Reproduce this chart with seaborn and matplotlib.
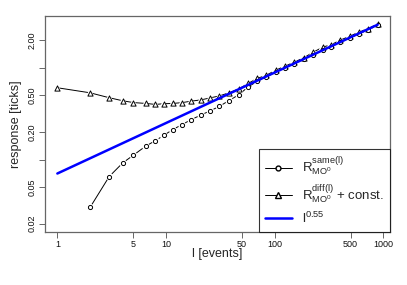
import matplotlib
matplotlib.use("Agg")
import matplotlib.pyplot as plt
from matplotlib.lines import Line2D
from matplotlib.ticker import FixedLocator, FixedFormatter, NullLocator
import seaborn as sns
import pandas as pd
import numpy as np

sns.set_style("white")
plt.rcParams['font.family'] = ['Liberation Sans', 'DejaVu Sans']
plt.rcParams['mathtext.default'] = 'regular'

# data
l_diff = [1, 2, 3, 4, 5, 6.5, 8, 9.5, 11.5, 14, 17, 21, 25.5, 31, 38, 47, 57, 69, 83,
          102, 124, 151, 186, 227, 277, 330, 400, 493, 600, 726, 887]
r_diff = [0.606, 0.534, 0.472, 0.437, 0.418, 0.409, 0.399, 0.406, 0.409, 0.417, 0.433,
          0.447, 0.470, 0.494, 0.534, 0.591, 0.675, 0.766, 0.825, 0.94, 1.04, 1.15,
          1.29, 1.48, 1.68, 1.78, 2.00, 2.21, 2.46, 2.67, 3.01]
l_same = [2, 3, 4, 5, 6.5, 8, 9.5, 11.5, 14, 17, 21, 25.5, 31, 38, 47, 57, 69, 83,
          102, 124, 151, 186, 227, 277, 330, 400, 493, 600, 726, 887]
r_same = [0.0301, 0.0653, 0.0921, 0.1115, 0.140, 0.161, 0.183, 0.212, 0.240, 0.272,
          0.306, 0.340, 0.380, 0.440, 0.510, 0.620, 0.710, 0.790, 0.90, 1.00, 1.11,
          1.25, 1.39, 1.55, 1.70, 1.89, 2.11, 2.35, 2.60, 2.90]
fit_l = [1, 887]
fit_amp = 0.0705
fit_exp = 0.55

x_ticks = [1, 5, 10, 50, 100, 500, 1000]
x_tick_labels = ["1", "5", "10", "50", "100", "500", "1000"]
y_ticks = [0.02, 0.05, 0.1, 0.2, 0.5, 1.0, 2.0]
y_tick_labels = ["0.02", "0.05", "", "0.20", "0.50", "", "2.00"]

df_same = pd.DataFrame({"l": l_same, "r": r_same})
df_diff = pd.DataFrame({"l": l_diff, "r": r_diff})
fit_x = np.array(fit_l, dtype=float)
df_fit = pd.DataFrame({"l": fit_x, "r": fit_amp * fit_x ** fit_exp})

fig = plt.figure(figsize=(4.07, 2.85), dpi=100)
ax = fig.add_axes([0.1106, 0.186, 0.8474, 0.758])

lw = 0.7
# lines
sns.lineplot(data=df_diff, x="l", y="r", ax=ax, color="black", linewidth=lw,
             estimator=None, sort=False, zorder=2)
sns.lineplot(data=df_same, x="l", y="r", ax=ax, color="black", linewidth=lw,
             estimator=None, sort=False, zorder=2)
# halos (gaps around points as in R type="b")
sns.scatterplot(data=df_diff, x="l", y="r", ax=ax, marker="^", s=42, color="white",
                edgecolor="none", zorder=3)
sns.scatterplot(data=df_same, x="l", y="r", ax=ax, marker="o", s=30, color="white",
                edgecolor="none", zorder=3)
# markers
sns.scatterplot(data=df_diff, x="l", y="r", ax=ax, marker="^", s=14, facecolor="white",
                edgecolor="black", linewidth=0.7, zorder=4)
sns.scatterplot(data=df_same, x="l", y="r", ax=ax, marker="o", s=9, facecolor="white",
                edgecolor="black", linewidth=0.7, zorder=4)
# fit line
sns.lineplot(data=df_fit, x="l", y="r", ax=ax, color="#0000ff", linewidth=1.8,
             estimator=None, zorder=5)

ax.set_xscale("log")
ax.set_yscale("log")
ax.set_xlim(0.77, 1150)
ax.set_ylim(0.01626, 3.67)

ax.xaxis.set_major_locator(FixedLocator(x_ticks))
ax.xaxis.set_major_formatter(FixedFormatter(x_tick_labels))
ax.xaxis.set_minor_locator(NullLocator())
ax.yaxis.set_major_locator(FixedLocator(y_ticks))
ax.yaxis.set_major_formatter(FixedFormatter(y_tick_labels))
ax.yaxis.set_minor_locator(NullLocator())

frame_c = "#666666"
for sp in ax.spines.values():
    sp.set_color(frame_c)
    sp.set_linewidth(0.9)
ax.tick_params(axis="both", which="major", direction="out", length=4, width=0.7,
               color=frame_c, labelsize=6.5, labelcolor="#111111", pad=2,
               bottom=True, left=True)
for t in ax.get_yticklabels():
    t.set_rotation(90)
    t.set_va("center")

ax.set_xlabel("l [events]", fontsize=9, labelpad=-1)
ax.set_ylabel("response [ticks]", fontsize=9, labelpad=4)

handles = [
    Line2D([], [], color="black", linewidth=lw, marker="o", markersize=3.5,
           markerfacecolor="white", markeredgecolor="black"),
    Line2D([], [], color="black", linewidth=lw, marker="^", markersize=4.5,
           markerfacecolor="white", markeredgecolor="black"),
    Line2D([], [], color="#0000ff", linewidth=1.8),
]
labels = [r"$R^{same(l)}_{MO^0}$", r"$R^{diff(l)}_{MO^0}$ + const.", r"$l^{0.55}$"]
leg = ax.legend(handles, labels, loc="lower right", borderaxespad=0, fontsize=9.5,
                frameon=True, fancybox=False, edgecolor="black", handlelength=2.0,
                handletextpad=0.8, labelspacing=0.35, borderpad=0.45)
leg.get_frame().set_linewidth(0.8)
leg.set_zorder(10)

fig.savefig("out.png", dpi=100)
